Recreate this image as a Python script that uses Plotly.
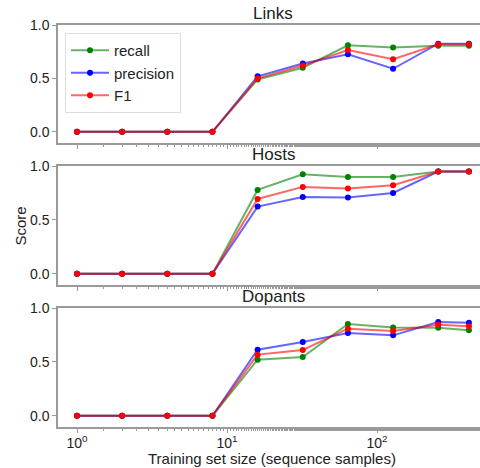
import plotly.graph_objects as go

sizes = [1, 2, 4, 8, 16, 32, 64, 128, 256, 410]
panels = ["Links", "Hosts", "Dopants"]
series_names = ["recall", "precision", "F1"]

links_recall = [0, 0, 0, 0, 0.49, 0.60, 0.81, 0.79, 0.805, 0.805]
links_precision = [0, 0, 0, 0, 0.52, 0.64, 0.725, 0.59, 0.825, 0.825]
links_f1 = [0, 0, 0, 0, 0.50, 0.62, 0.765, 0.68, 0.82, 0.82]

hosts_recall = [0, 0, 0, 0, 0.778, 0.923, 0.898, 0.898, 0.948, 0.948]
hosts_precision = [0, 0, 0, 0, 0.623, 0.713, 0.707, 0.75, 0.948, 0.948]
hosts_f1 = [0, 0, 0, 0, 0.694, 0.806, 0.79, 0.821, 0.948, 0.948]

dopants_recall = [0, 0, 0, 0, 0.52, 0.545, 0.851, 0.82, 0.817, 0.793]
dopants_precision = [0, 0, 0, 0, 0.613, 0.684, 0.768, 0.746, 0.87, 0.864]
dopants_f1 = [0, 0, 0, 0, 0.567, 0.61, 0.808, 0.786, 0.845, 0.83]

data = [
    [links_recall, links_precision, links_f1],
    [hosts_recall, hosts_precision, hosts_f1],
    [dopants_recall, dopants_precision, dopants_f1],
]

line_colors = ["rgba(0,128,0,0.6)", "rgba(0,0,255,0.6)", "rgba(255,0,0,0.6)"]
marker_colors = ["rgb(0,128,0)", "rgb(0,0,255)", "rgb(255,0,0)"]

W, H = 480, 468
P_LEFT, P_RIGHT, P_TOP, P_BOT = 58, 480, 25, 427
ML, MR, MT, MB = P_LEFT, W - P_RIGHT, P_TOP, H - P_BOT
plot_w = P_RIGHT - P_LEFT
plot_h = P_BOT - P_TOP


def px(xp):
    return (xp - P_LEFT) / plot_w


def py(yp):
    return (P_BOT - yp) / plot_h


panel_px = [(25, 143), (166, 285), (308, 427)]
domains = [[py(b), py(t)] for t, b in panel_px]

FONT = "Liberation Sans, Arial, Helvetica, sans-serif"
fig = go.Figure()

for i in range(3):
    xa = "x" if i == 0 else f"x{i+1}"
    ya = "y" if i == 0 else f"y{i+1}"
    for j in range(3):
        fig.add_trace(go.Scatter(
            x=sizes, y=data[i][j], mode="lines+markers", name=series_names[j],
            line=dict(color=line_colors[j], width=2),
            marker=dict(color=marker_colors[j], size=6),
            showlegend=(i == 0), xaxis=xa, yaxis=ya,
        ))

spine = "#9a9a9a"
layout = dict(
    width=W, height=H,
    margin=dict(l=ML, r=MR, t=MT, b=MB, pad=0),
    paper_bgcolor="white", plot_bgcolor="white",
    font=dict(family=FONT, size=14, color="#222"),
    legend=dict(x=px(65), y=py(33), xanchor="left", yanchor="top",
                bgcolor="white", bordercolor="#dddddd", borderwidth=1,
                itemwidth=38,
                font=dict(size=15, family=FONT), tracegroupgap=0),
    annotations=[],
)

xr = [(P_LEFT - 77) / 150.0, (P_RIGHT - 77) / 150.0]
for i in range(3):
    key = "" if i == 0 else str(i + 1)
    layout[f"xaxis{key}"] = dict(
        type="log", range=xr, domain=[0, 1], anchor=f"y{key}",
        showgrid=False, zeroline=False, showline=True, linecolor=spine, linewidth=1.5,
        mirror=True, ticks="outside", ticklen=4, tickcolor=spine, tickwidth=1,
        tickvals=[1, 10, 100], ticktext=["10<sup>0</sup>", "10<sup>1</sup>", "10<sup>2</sup>"],
        showticklabels=(i == 2), tickfont=dict(size=14, family=FONT),
        ticklabelstandoff=-2,
        minor=dict(ticks="outside", ticklen=2, tickcolor=spine, showgrid=False),
    )
    layout[f"yaxis{key}"] = dict(
        range=[-0.105, 1.0], domain=domains[i], anchor=f"x{key}",
        showgrid=False, zeroline=False, showline=True, linecolor=spine, linewidth=1.5,
        ticks="outside", ticklen=4, tickcolor=spine, tickvals=[0, 0.5, 1.0],
        ticktext=["0.0", "0.5", "1.0"], tickfont=dict(size=14, family=FONT),
    )
    layout["annotations"].append(dict(
        text=panels[i], xref="paper", yref="paper",
        x=px(273), y=domains[i][1], xanchor="center", yanchor="bottom",
        yshift=0, showarrow=False, font=dict(size=17, family=FONT, color="#222"),
    ))

layout["annotations"].append(dict(
    text="Score", xref="paper", yref="paper", x=px(19.5),
    y=py(226), xanchor="center", yanchor="middle", textangle=-90,
    showarrow=False, font=dict(size=15, family=FONT, color="#222"),
))
layout["annotations"].append(dict(
    text="Training set size (sequence samples)", xref="paper", yref="paper",
    x=px(272), y=py(458), xanchor="center", yanchor="middle",
    showarrow=False, font=dict(size=15, family=FONT, color="#222"),
))

fig.update_layout(**layout)
fig.write_html("out.html", config={"displayModeBar": False},
               post_script="document.body.style.margin='0px';")
